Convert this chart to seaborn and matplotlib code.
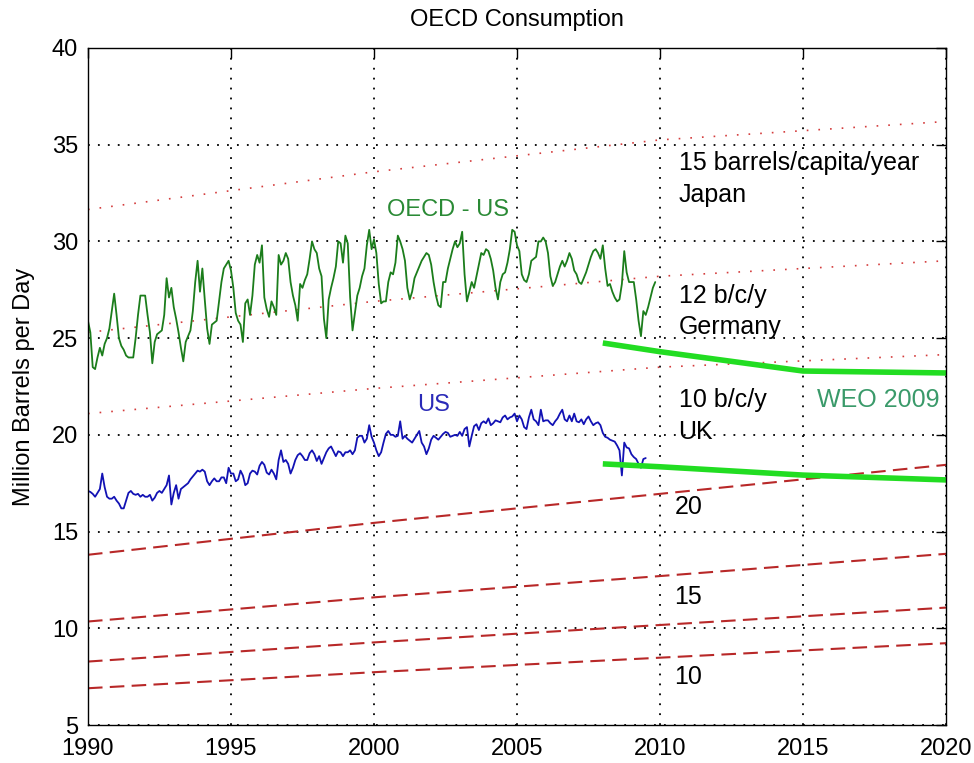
import numpy as np
import pandas as pd
import matplotlib
matplotlib.use("Agg")
import matplotlib.pyplot as plt
import seaborn as sns

# ---------------- data ----------------
start_year = 1990
# OECD minus US consumption, monthly from Jan 1990 (million barrels/day)
oecd_ex_us = [
    25.9, 25.3, 23.5, 23.4, 24.0, 24.5, 24.1, 24.7, 25.0, 25.5, 26.4, 27.3,
    26.2, 25.0, 24.6, 24.4, 24.1, 24.0, 24.0, 24.0, 25.0, 26.2, 27.2, 27.2,
    27.2, 26.2, 25.3, 23.7, 24.8, 25.2, 25.3, 25.4, 26.2, 28.1, 27.1, 27.6,
    26.6, 26.0, 25.3, 24.5, 23.8, 24.8, 25.1, 25.4, 26.4, 27.9, 29.0, 27.4,
    28.6, 27.0, 25.5, 24.7, 25.7, 25.8, 25.9, 26.9, 27.9, 28.6, 28.8, 29.0,
    28.5, 27.6, 26.3, 25.9, 25.7, 24.8, 26.8, 27.0, 26.2, 27.2, 28.8, 29.3,
    28.9, 29.8, 27.1, 26.5, 26.1, 26.9, 26.6, 26.2, 29.3, 28.8, 29.0, 29.4,
    29.1, 27.9, 27.2, 26.7, 25.9, 27.8, 27.6, 28.0, 28.3, 29.1, 30.0, 29.6,
    29.4, 28.6, 28.2, 26.0, 25.0, 27.0, 27.6, 28.1, 28.7, 30.0, 29.9, 28.9,
    30.3, 29.9, 27.1, 25.4, 26.3, 27.2, 27.6, 28.2, 28.6, 29.8, 30.6, 29.6,
    30.1, 29.4, 27.8, 26.8, 26.9, 26.9, 27.9, 28.4, 28.3, 28.9, 30.3, 30.0,
    29.6, 29.0, 27.6, 27.0, 27.4, 28.1, 28.4, 28.7, 29.0, 29.2, 29.4, 29.3,
    28.8, 27.9, 27.2, 26.7, 26.6, 27.9, 27.9, 28.6, 29.1, 29.6, 30.0, 29.7,
    29.9, 30.5, 28.3, 26.9, 27.4, 27.9, 27.6, 28.2, 28.8, 29.4, 29.3, 29.6,
    29.5, 29.1, 28.5, 27.6, 27.0, 27.9, 28.3, 28.4, 28.9, 29.6, 30.6, 30.5,
    29.8, 29.5, 28.3, 28.0, 27.9, 28.3, 29.0, 29.1, 29.2, 30.0, 30.0, 30.2,
    30.0, 29.4, 28.2, 27.7, 27.9, 28.3, 28.7, 29.0, 28.7, 29.0, 29.4, 29.1,
    28.5, 28.3, 27.9, 27.8, 28.1, 28.4, 28.8, 29.2, 29.5, 29.6, 29.4, 29.1,
    29.8, 28.6, 27.7, 27.8, 27.4, 27.1, 26.9, 27.0, 27.8, 29.5, 28.4, 27.9,
    27.9, 27.9, 27.0, 25.9, 25.1, 26.4, 26.2, 26.6, 27.1, 27.6, 27.9,
]
# US consumption, monthly from Jan 1990
us = [
    17.1, 17.05, 16.95, 16.8, 17.0, 17.2, 18.0, 17.3, 16.8, 16.7, 16.7, 16.8,
    16.6, 16.45, 16.2, 16.2, 16.6, 17.0, 17.1, 16.95, 16.9, 16.95, 16.8, 16.9,
    16.8, 16.8, 16.9, 16.6, 16.75, 17.0, 17.1, 17.0, 17.2, 17.4, 17.9, 16.4,
    17.0, 17.4, 16.7, 17.2, 17.3, 17.4, 17.5, 17.7, 17.85, 18.0, 18.15, 18.1,
    18.2, 18.1, 17.6, 17.4, 17.6, 17.75, 17.6, 17.6, 17.8, 17.8, 17.5, 18.3,
    18.0, 18.0, 17.6, 17.7, 18.15, 17.9, 17.4, 17.5, 18.0, 18.15, 18.1, 17.95,
    18.4, 18.6, 18.45, 18.05, 17.95, 18.2, 18.0, 17.7, 18.7, 19.2, 18.6, 18.7,
    18.5, 18.0, 18.3, 18.7, 18.95, 19.05, 18.9, 18.7, 18.7, 19.05, 19.2, 19.0,
    18.65, 18.9, 18.5, 18.8, 19.1, 19.3, 19.4, 19.15, 18.9, 19.15, 19.1, 18.9,
    19.1, 19.1, 19.2, 19.0, 19.2, 19.85, 19.95, 19.95, 19.6, 19.8, 20.5, 19.9,
    19.6, 19.2, 18.9, 19.1, 19.6, 20.05, 20.2, 20.0, 20.0, 19.9, 19.95, 20.7,
    19.8, 19.95, 19.8, 19.7, 19.6, 19.8, 20.0, 20.2, 19.6, 19.4, 19.0, 19.3,
    19.75, 19.95, 19.85, 19.75, 19.9, 20.05, 20.15, 20.1, 19.9, 19.95, 20.0, 19.95,
    20.15, 19.95, 20.3, 20.4, 19.4, 19.95, 20.45, 20.55, 20.25, 20.6, 20.7, 20.6,
    20.85, 20.5, 20.6, 20.75, 20.7, 20.65, 20.9, 21.0, 20.8, 20.9, 20.95, 21.1,
    20.7, 21.0, 20.8, 20.4, 20.3, 20.9, 21.3, 20.8, 20.7, 20.5, 21.3, 20.7,
    20.75, 20.75, 20.6, 20.5, 20.7, 20.85, 21.1, 21.3, 20.8, 20.7, 21.0, 20.7,
    21.1, 20.7, 20.65, 20.8, 20.55, 20.8, 20.95, 20.7, 20.5, 20.6, 20.65, 20.5,
    20.1, 19.9, 19.85, 19.75, 19.7, 19.65, 19.45, 19.2, 17.9, 19.6, 19.35, 19.3,
    19.0, 18.85, 18.75, 18.5, 18.3, 18.75, 18.8,
]

# per-capita reference lines (values at ref_years)
ref_years = [1990, 2000, 2010, 2020]
oecd_15bcy = [31.65, 33.6, 35.25, 36.2]
oecd_12bcy = [25.3, 26.9, 28.2, 29.0]
oecd_10bcy = [21.1, 22.4, 23.5, 24.15]
us_20bcy = [13.8, 15.45, 16.95, 18.45]
us_15bcy = [10.35, 11.6, 12.7, 13.85]
us_12bcy = [8.28, 9.27, 10.17, 11.07]
us_10bcy = [6.9, 7.73, 8.48, 9.23]

# WEO 2009 projections
weo_years = [2008, 2010, 2015, 2020]
weo_oecd_ex_us = [24.75, 24.3, 23.3, 23.2]
weo_us = [18.5, 18.35, 17.92, 17.67]

x_ticks = [1990, 1995, 2000, 2005, 2010, 2015, 2020]
y_ticks = [5, 10, 15, 20, 25, 30, 35, 40]

# ---------------- style ----------------
sns.set_style("white")
plt.rcParams["font.family"] = ["Liberation Sans", "DejaVu Sans"]
plt.rcParams["text.color"] = "black"
plt.rcParams["axes.labelcolor"] = "black"
plt.rcParams["xtick.color"] = "black"
plt.rcParams["ytick.color"] = "black"

fig = plt.figure(figsize=(9.74, 7.63), dpi=100)
ax = fig.add_axes([0.0903, 0.0498, 0.8810, 0.8873])

t_oecd = start_year + np.arange(len(oecd_ex_us)) / 12.0
t_us = start_year + np.arange(len(us)) / 12.0
df_oecd = pd.DataFrame({"t": t_oecd, "v": oecd_ex_us})
df_us = pd.DataFrame({"t": t_us, "v": us})

dot_style = (0, (1, 6))
dash_style = (0, (7, 3.5))
red_dot = "#d43c3c"
red_dash = "#b82828"

for vals in (oecd_15bcy, oecd_12bcy, oecd_10bcy):
    sns.lineplot(x=ref_years, y=vals, ax=ax, color=red_dot, linewidth=1.2,
                 linestyle=dot_style, estimator=None, sort=False)
for vals in (us_20bcy, us_15bcy, us_12bcy, us_10bcy):
    sns.lineplot(x=ref_years, y=vals, ax=ax, color=red_dash, linewidth=1.5,
                 linestyle=dash_style, estimator=None, sort=False)

sns.lineplot(data=df_oecd, x="t", y="v", ax=ax, color="#1b7d1b", linewidth=1.3,
             estimator=None, sort=False)
sns.lineplot(data=df_us, x="t", y="v", ax=ax, color="#1212b4", linewidth=1.3,
             estimator=None, sort=False)

sns.lineplot(x=weo_years, y=weo_oecd_ex_us, ax=ax, color="#22dd22", linewidth=4,
             estimator=None, sort=False, solid_capstyle="butt")
sns.lineplot(x=weo_years, y=weo_us, ax=ax, color="#22dd22", linewidth=4,
             estimator=None, sort=False, solid_capstyle="butt")

ax.set_xlim(1990, 2020)
ax.set_ylim(5, 40)
ax.set_xticks(x_ticks)
ax.set_yticks(y_ticks)
ax.set_xticklabels([str(v) for v in x_ticks])
ax.set_yticklabels([str(v) for v in y_ticks])
ax.grid(True, color="black", linestyle=(0, (1, 4.5)), linewidth=1.3)
ax.set_axisbelow(True)
ax.tick_params(direction="in", length=7, width=1, top=True, right=True,
               labelsize=17, colors="black")
ax.tick_params(axis="x", pad=9)
ax.tick_params(axis="y", pad=7)
for s in ax.spines.values():
    s.set_color("black")
    s.set_linewidth(1.0)
    s.set_visible(True)

ax.set_xlabel("")
ax.set_ylabel("Million Barrels per Day", fontsize=17, labelpad=12, color="black")
ax.set_title("OECD Consumption", fontsize=17, pad=16, color="black")

tk = dict(fontsize=18, color="black", ha="left", va="center")
ax.text(2010.65, 34.06, "15 barrels/capita/year", **tk)
ax.text(2010.65, 32.4, "Japan", **tk)
ax.text(2010.65, 27.2, "12 b/c/y", **tk)
ax.text(2010.65, 25.6, "Germany", **tk)
ax.text(2010.65, 21.8, "10 b/c/y", **tk)
ax.text(2010.65, 20.15, "UK", **tk)
ax.text(2010.5, 16.27, "20", **tk)
ax.text(2010.5, 11.6, "15", **tk)
ax.text(2010.5, 7.5, "10", **tk)
ax.text(2002.6, 31.6, "OECD - US", fontsize=17, color="#2a8a35", ha="center", va="center")
ax.text(2002.1, 21.55, "US", fontsize=17, color="#2a2ab8", ha="center", va="center")
ax.text(2015.5, 21.8, "WEO 2009", fontsize=18, color="#3a9a6a", ha="left", va="center")

fig.savefig("out.png", dpi=100, facecolor="white")
